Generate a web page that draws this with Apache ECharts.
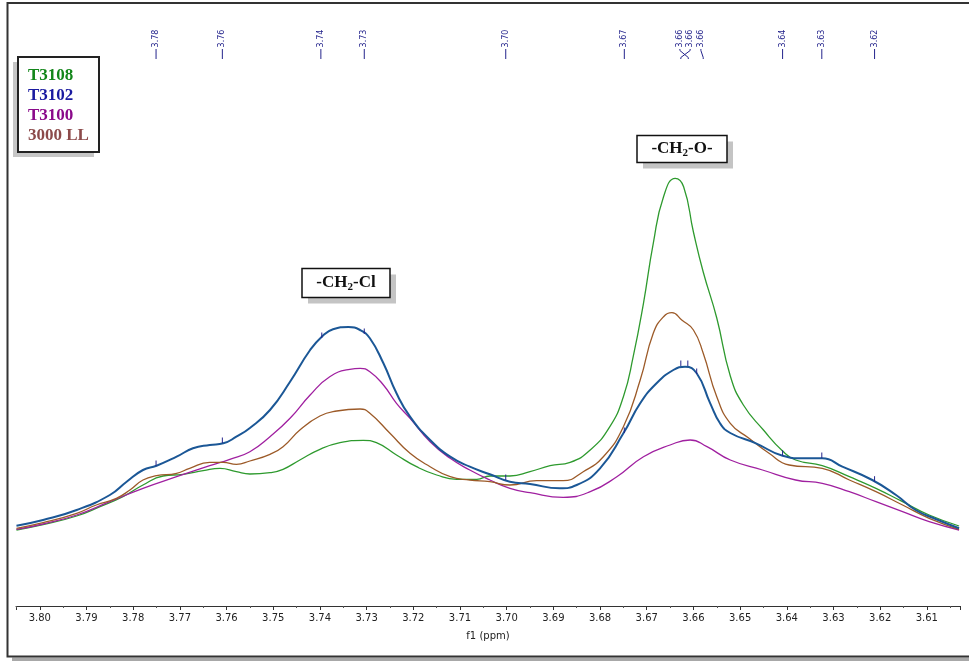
<!DOCTYPE html>
<html><head><meta charset="utf-8">
<script src="https://cdn.jsdelivr.net/npm/echarts@6/dist/echarts.min.js"></script>
<style>html,body{margin:0;padding:0;background:#fff}#c{width:969px;height:661px}</style>
</head><body><div id="c"></div>
<script>
const seriesNames = ['T3108', 'T3102', 'T3100', '3000 LL'];
const lineColors = ['#2e9a2e', '#1b5796', '#a020a0', '#9c5a28'];
const legendColors = ['#13861a', '#1a1aa0', '#8a0a8a', '#8c4a4a'];

const ppmGreen = [3.8050,3.7993,3.7921,3.7871,3.7822,3.7779,3.7736,3.7693,3.7650,3.7614,3.7579,3.7550,3.7507,3.7479,3.7443,3.7400,3.7357,3.7307,3.7279,3.7236,3.7193,3.7150,3.7107,3.7064,3.7036,3.6993,3.6950,3.6907,3.6864,3.6821,3.6779,3.6750,3.6729,3.6707,3.6686,3.6664,3.6639,3.6621,3.6600,3.6579,3.6550,3.6521,3.6493,3.6450,3.6409,3.6381,3.6324,3.6266,3.6209,3.6152,3.6095,3.6031];
const intGreen = [76,81.3,90,99.3,109.3,121,130,131.7,135.3,137.7,134.3,132,133.3,136.7,146,156.7,163.3,165.7,163.3,151,139.3,131,126.7,126.7,130,130,134.3,140.3,143.7,156,179.3,209.3,249.3,302.7,362.7,409.3,427.7,419.3,374,334,288,230,201,176,155,146,140.3,129.3,117.7,104.3,91,80];

const ppmBlue = [3.8050,3.7993,3.7921,3.7850,3.7814,3.7779,3.7750,3.7707,3.7672,3.7636,3.7607,3.7579,3.7550,3.7507,3.7464,3.7421,3.7396,3.7372,3.7339,3.7314,3.7293,3.7264,3.7236,3.7207,3.7164,3.7121,3.7079,3.7036,3.6993,3.6950,3.6886,3.6850,3.6800,3.6750,3.6714,3.6679,3.6643,3.6618,3.6593,3.6564,3.6543,3.6521,3.6466,3.6409,3.6367,3.6324,3.6281,3.6217,3.6166,3.6124,3.6081,3.6031];
const intBlue = [80.3,86,96,111,124.3,136,140.3,149.3,157.7,161,162.7,169.3,178,196,224.3,256,269.3,276.7,279,276,267.7,242.7,212.7,189.3,166,149.3,139.3,131.7,124.3,122,117.7,121,137.7,172.7,202.7,222.7,236,239.3,232.7,202.7,182.7,173,162.7,150.3,147.7,147.7,139.3,126,111,96,87,77.7];

const ppmPurple = [3.8050,3.7993,3.7921,3.7850,3.7779,3.7707,3.7636,3.7593,3.7550,3.7507,3.7464,3.7421,3.7379,3.7336,3.7314,3.7293,3.7264,3.7236,3.7207,3.7164,3.7121,3.7079,3.7036,3.6993,3.6950,3.6879,3.6821,3.6764,3.6707,3.6650,3.6607,3.6571,3.6521,3.6452,3.6381,3.6324,3.6266,3.6209,3.6152,3.6095,3.6031];
const intPurple = [76.7,82,91,104.3,117.7,129.3,140.3,146.7,154.3,169.3,187.7,211,229.3,236.7,237.7,234.3,221,202.7,187.7,164.3,147.7,136,126,117.7,113.3,108.7,114.3,129.3,149.3,161,166,159.3,146,136,126,122.7,114.3,104.3,94.3,84.3,76];

const ppmBrown = [3.8050,3.7993,3.7921,3.7879,3.7836,3.7807,3.7779,3.7750,3.7707,3.7679,3.7636,3.7607,3.7579,3.7550,3.7507,3.7479,3.7443,3.7400,3.7364,3.7314,3.7293,3.7250,3.7207,3.7164,3.7121,3.7079,3.7036,3.6993,3.6936,3.6879,3.6836,3.6793,3.6750,3.6714,3.6686,3.6664,3.6646,3.6625,3.6600,3.6579,3.6550,3.6521,3.6481,3.6438,3.6395,3.6324,3.6266,3.6209,3.6152,3.6095,3.6031];
const intBrown = [77.7,83.3,92.7,101,107.7,116,126,130.3,132.7,137.7,143.7,143.7,141.7,145,151.7,159.3,176,190,195,197,192.7,172.7,152.7,139.3,129.3,126,124.3,121,125.3,125.3,134.3,149.3,179.3,226,272.7,289.3,293.3,286,276,252.7,209.3,182.7,167.7,152.7,141,137.7,126,114.3,101,87.7,76.7];

const peakPpm = [3.7751,3.7609,3.7396,3.7305,3.7002,3.6748,3.6627,3.6612,3.6593,3.6409,3.6325,3.6212];
const peakInt = [140,163,268,272,126,173,240,240,232,150.3,148,124.3];
const peakLabels = ['3.78','3.76','3.74','3.73','3.70','3.67','3.66','3.66','3.66','3.64','3.63','3.62'];
const peakLabelPpm = [3.7751,3.7609,3.7398,3.7305,3.7002,3.6748,3.6629,3.6607,3.6584,3.6409,3.6325,3.6212];
const peakLinkPpm = [3.7751,3.7609,3.7398,3.7305,3.7002,3.6748,3.6611,3.6627,3.6579,3.6409,3.6325,3.6212];

const xMin = 3.6029, xMax = 3.8051;

const chart = echarts.init(document.getElementById('c'), null, {renderer: 'canvas'});

function mkLine(name, ppm, vals, color, width, z) {
  return {
    name: name, type: 'line', showSymbol: false, smooth: 0.5, z: z,
    lineStyle: {color: color, width: width}, itemStyle: {color: color},
    data: ppm.map((p, i) => [p, vals[i]]), silent: true
  };
}

const peakColor = '#24248c';

function boxAnno(cx, cy, w, h, parts) {
  return {
    type: 'group', x: cx - w / 2, y: cy - h / 2,
    children: [
      {type: 'rect', shape: {x: 6, y: 6, width: w, height: h}, style: {fill: '#c4c4c4'}},
      {type: 'rect', shape: {x: 0, y: 0, width: w, height: h}, style: {fill: '#fff', stroke: '#111', lineWidth: 1.5}},
      {type: 'text', x: w / 2, y: h / 2, style: {
        text: parts, align: 'center', verticalAlign: 'middle',
        rich: {
          a: {fontFamily: 'Liberation Serif', fontWeight: 'bold', fontSize: 17, lineHeight: 20, fill: '#111'},
          s: {fontFamily: 'Liberation Serif', fontWeight: 'bold', fontSize: 11, lineHeight: 13, verticalAlign: 'bottom', fill: '#111'}
        }
      }}
    ]
  };
}

const option = {
  animation: false,
  backgroundColor: '#fff',
  grid: {left: 16, right: 9, top: 6, bottom: 55},
  xAxis: {
    type: 'value', inverse: true, min: xMin, max: xMax,
    splitNumber: 20, minInterval: 0.01, maxInterval: 0.01,
    axisLine: {lineStyle: {color: '#333', width: 1}},
    axisTick: {length: 4, lineStyle: {color: '#333'}},
    minorTick: {show: true, splitNumber: 2, length: 2, lineStyle: {color: '#555'}},
    splitLine: {show: false},
    axisLabel: {
      showMinLabel: false, showMaxLabel: false, fontSize: 10, fontFamily: 'DejaVu Sans', color: '#222', margin: 7,
      formatter: v => (Math.abs(v * 100 - Math.round(v * 100)) < 1e-6 ? v.toFixed(2) : '')
    },
    name: 'f1 (ppm)', nameLocation: 'middle', nameGap: 25,
    nameTextStyle: {fontSize: 10, fontFamily: 'DejaVu Sans', color: '#222'}
  },
  yAxis: {type: 'value', min: 0, max: 600, show: false},
  legend: {
    orient: 'vertical', left: 18, top: 57, icon: 'none', itemWidth: 0, itemHeight: 20, itemGap: 0,
    padding: [9, 10, 5, 5], z: 20,
    selectedMode: false,
    textStyle: {fontFamily: 'Liberation Serif', fontWeight: 'bold', fontSize: 17, lineHeight: 20},
    data: seriesNames.map((n, i) => ({name: n, textStyle: {color: legendColors[i]}}))
  },
  graphic: [
    {type: 'rect', shape: {x: 12, y: 657.5, width: 960, height: 4}, style: {fill: '#a8a8a8'}, z: 1},
    {type: 'rect', shape: {x: 7.5, y: 3, width: 975, height: 653.5}, style: {fill: null, stroke: '#333', lineWidth: 2}, z: 2},
    {type: 'rect', shape: {x: 13, y: 62, width: 81, height: 95}, style: {fill: '#c6c6c6'}, z: 3},
    {type: 'rect', shape: {x: 18, y: 57, width: 81, height: 95}, style: {fill: '#fff', stroke: '#222', lineWidth: 2}, z: 4},
    boxAnno(346, 283, 88, 29, '{a|-CH}{s|2}{a|-Cl}'),
    boxAnno(682, 149, 90, 27, '{a|-CH}{s|2}{a|-O-}')
  ],
  series: [
    mkLine(seriesNames[0], ppmGreen, intGreen, lineColors[0], 1.3, 2),
    mkLine(seriesNames[2], ppmPurple, intPurple, lineColors[2], 1.3, 3),
    mkLine(seriesNames[3], ppmBrown, intBrown, lineColors[3], 1.3, 4),
    mkLine(seriesNames[1], ppmBlue, intBlue, lineColors[1], 2, 5),
    {
      name: 'peaks', type: 'custom', silent: true, clip: false, z: 6,
      encode: {x: 0, y: 1},
      data: peakPpm.map((p, i) => [p, peakInt[i], peakLabelPpm[i], peakLinkPpm[i]]),
      renderItem: function (params, api) {
        const i = params.dataIndex;
        const p = api.coord([api.value(0), api.value(1)]);
        const lx = api.coord([api.value(2), 0])[0];
        const kx = api.coord([api.value(3), 0])[0];
        const pts = Math.abs(lx - kx) < 0.5 ? [[lx, 49], [lx, 59]] : [[lx, 49], [lx, 50.5], [kx, 57.5], [kx, 59]];
        return {
          type: 'group', children: [
            {type: 'line', shape: {x1: p[0], y1: p[1] - 5.5, x2: p[0], y2: p[1]}, style: {stroke: peakColor, lineWidth: 1}},
            {type: 'polyline', shape: {points: pts}, style: {stroke: peakColor, lineWidth: 1, fill: null}},
            {type: 'text', x: lx, y: 38.5, rotation: Math.PI / 2, style: {
              text: peakLabels[i], x: 0, y: 0, align: 'center', verticalAlign: 'middle',
              fontSize: 8, fontFamily: 'DejaVu Sans', fill: peakColor
            }}
          ]
        };
      }
    }
  ]
};
chart.setOption(option);
</script>
</body></html>
